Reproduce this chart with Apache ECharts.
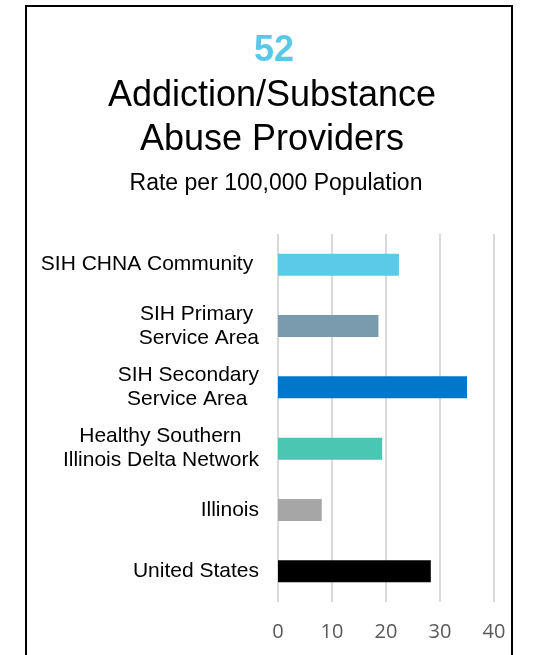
<!DOCTYPE html>
<html>
<head>
<meta charset="utf-8">
<script src="https://cdn.jsdelivr.net/npm/echarts@6/dist/echarts.min.js"></script>
<style>
html,body{margin:0;padding:0;background:#fff;}
#main{width:538px;height:655px;}
</style>
</head>
<body>
<div id="main"></div>
<script>
// data
var areas = ['SIH CHNA Community ', 'SIH Primary \nService Area', 'SIH Secondary\nService Area  ', 'Healthy Southern   \nIllinois Delta Network', 'Illinois', 'United States'];
var rates = [22.4, 18.6, 35.0, 19.3, 8.1, 28.3];
var barColors = ['#5BC9E8', '#7A9BAE', '#0077C8', '#4BC6B2', '#A6A6A6', '#000000'];
var xTicks = [0, 10, 20, 30, 40];

var chart = echarts.init(document.getElementById('main'));
var option = {
	animation: false,
	title: [
		{
			text: '52',
			left: 274,
			top: 33,
			padding: 0,
			textAlign: 'center',
			textStyle: { color: '#5BC8E8', fontSize: 36, fontWeight: 'bold', fontFamily: 'Liberation Sans' }
		},
		{
			text: 'Addiction/Substance\nAbuse Providers',
			left: 272,
			top: 74,
			padding: 0,
			textAlign: 'center',
			textStyle: { color: '#000', fontSize: 36, fontWeight: 'normal', lineHeight: 44, fontFamily: 'Liberation Sans' }
		},
		{
			text: 'Rate per 100,000 Population',
			left: 276,
			top: 172,
			padding: 0,
			textAlign: 'center',
			textStyle: { color: '#000', fontSize: 23, fontWeight: 'normal', lineHeight: 24, fontFamily: 'Liberation Sans' }
		}
	],
	graphic: [{
		type: 'rect',
		shape: { x: 26, y: 6, width: 486, height: 700 },
		style: { fill: 'none', stroke: '#000', lineWidth: 2 }
	}],
	grid: { left: 278, right: 44, top: 234, bottom: 53 },
	xAxis: {
		type: 'value',
		min: xTicks[0],
		max: xTicks[xTicks.length - 1],
		interval: 10,
		axisLine: { show: false },
		axisTick: { show: false },
		splitLine: { show: true, lineStyle: { color: '#d9d9d9', width: 2 } },
		axisLabel: { color: '#595959', fontSize: 20, fontFamily: 'Open Sans', margin: 20 }
	},
	yAxis: {
		type: 'category',
		data: areas,
		inverse: true,
		axisLine: { show: false },
		axisTick: { show: false },
		axisLabel: { color: '#000', fontSize: 21, lineHeight: 24, fontFamily: 'Liberation Sans', margin: 19 }
	},
	series: [{
		type: 'bar',
		data: rates.map(function (v, i) { return { value: v, itemStyle: { color: barColors[i] } }; }),
		barWidth: '36%'
	}]
};
chart.setOption(option);
</script>
</body>
</html>
